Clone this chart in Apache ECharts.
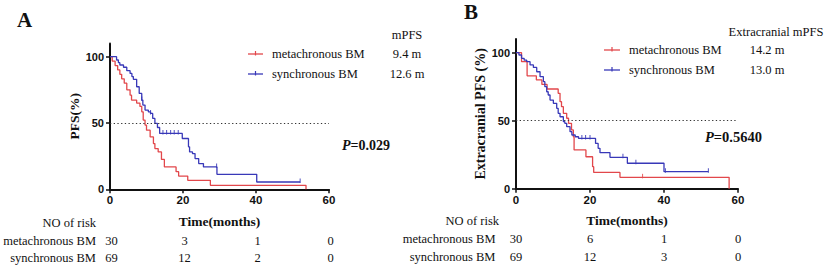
<!DOCTYPE html>
<html><head><meta charset="utf-8">
<script src="https://cdn.jsdelivr.net/npm/echarts@6/dist/echarts.min.js"></script>
<style>html,body{margin:0;padding:0;background:#fff}#c{width:824px;height:265px}</style>
</head><body><div id="c"></div>
<script>
// ---------------- data ----------------
const groups = ['metachronous BM', 'synchronous BM'];
const panelLabels = ['A', 'B'];
const yTitles = ['PFS(%)', 'Extracranial PFS (%)'];
const xTitle = 'Time(months)';
const xTicks = [0, 20, 40, 60];
const yTicks = [0, 50, 100];

// Panel A – PFS
const aMetaT = [0, 0.6, 1.4, 2.1, 2.7, 3.2, 3.9, 4.6, 5.5, 5.9, 7.3, 8.2, 8.7, 9.1, 9.6, 10.0, 11.0, 11.9, 12.3, 13.2, 14.1, 14.9, 18.1, 18.8, 21.3, 27.5, 53.7];
const aMetaS = [100, 96.7, 93.3, 90, 86.7, 83.3, 80, 75, 71, 67.3, 65, 62.5, 58.4, 52.2, 48.4, 44.6, 39.5, 34.5, 30.7, 28.2, 22.5, 16.9, 13.3, 10, 6.8, 3.0, 0];
const aSynT = [0, 1.8, 2.3, 2.7, 3.7, 4.6, 5.5, 6.0, 6.4, 7.3, 8.0, 8.7, 9.0, 9.6, 10.5, 11.1, 11.7, 12.3, 13.0, 13.6, 19.8, 21.5, 21.8, 22.6, 23.3, 24.3, 25.6, 29.3, 40.2, 52.1];
const aSynS = [100, 97.5, 95.5, 93.7, 92, 89.4, 87.4, 85, 82.9, 77.3, 72.3, 67.3, 63.5, 59.7, 58.4, 57.2, 53.4, 49.7, 46.6, 42.1, 38.3, 32, 28.2, 26.9, 23.2, 19.4, 16.9, 11.3, 5.5, 5.5];
const aSynCensT = [8.7, 11.1, 14.5, 15.5, 16.6, 17.6, 18.7, 29.2, 52.1];
const aSynCensS = [67.3, 57.2, 42.1, 42.1, 42.1, 42.1, 42.1, 16.9, 5.5];
const mpfsA = ['9.4 m', '12.6 m'];
const pA = '0.029';
const riskA = [[30, 3, 1, 0], [69, 12, 2, 0]];

// Panel B – Extracranial PFS
const bMetaT = [0, 1.5, 3.0, 5.5, 7.0, 8.4, 11.4, 11.9, 12.3, 12.8, 13.7, 14.2, 15.0, 15.5, 15.7, 18.9, 20.7, 21.0, 28.1, 57.6];
const bMetaS = [100, 93.4, 83.0, 80, 76.7, 73.3, 70.1, 64, 60.3, 55.4, 51.8, 48.1, 43.2, 38.2, 28.5, 23.5, 16.2, 12.0, 8.4, 0];
const bMetaCensT = [34.2];
const bMetaCensS = [8.4];
const bSynT = [0, 0.8, 1.5, 2.2, 2.9, 3.8, 4.7, 5.6, 6.5, 7.4, 7.8, 8.3, 8.7, 9.2, 10.1, 11.0, 11.4, 11.9, 12.8, 13.2, 13.7, 14.6, 15.1, 16.0, 16.9, 21.5, 22.2, 22.7, 25.4, 30.1, 40.0, 52.0];
const bSynS = [100, 98.3, 95.9, 94.5, 93.4, 91, 89.2, 86, 82.4, 78.7, 75, 71.3, 68.9, 65.2, 62.8, 59.1, 55.4, 52.9, 49.3, 48.1, 45.6, 41.9, 39.5, 38.2, 37, 33.3, 29.7, 26.5, 23.1, 18.7, 12.5, 12.5];
const bSynCensT = [17.8, 18.8, 20.0, 28.9, 32.4, 40.4, 52.0];
const bSynCensS = [37, 37, 37, 23.1, 18.7, 12.5, 12.5];
const mpfsB = ['14.2 m', '13.0 m'];
const pB = '0.5640';
const riskB = [[30, 6, 1, 0], [69, 12, 3, 0]];

const mpfsHeaders = ['mPFS', 'Extracranial mPFS'];
const riskHeader = 'NO of risk';

// ---------------- styling ----------------
const RED = '#e2474b', BLUE = '#3838b8', INK = '#111';
const SERIF = 'Liberation Serif';
const SANS = 'Liberation Sans';
const zip = (t, s) => t.map((v, i) => [v, s[i]]);

const chart = echarts.init(document.getElementById('c'), null, {renderer: 'svg', width: 824, height: 265});

function xAx(gi) {
  return {
    type: 'value', gridIndex: gi, min: 0, max: 60, interval: 20,
    name: xTitle, nameLocation: 'middle', nameGap: 25,
    nameTextStyle: {fontFamily: SERIF, fontWeight: 'bold', fontSize: 13.5, color: INK},
    axisLine: {onZero: false, lineStyle: {color: INK, width: 2}},
    axisTick: {length: 4, lineStyle: {color: INK, width: 1.5}},
    axisLabel: {fontFamily: SANS, fontWeight: 'bold', fontSize: 11.5, color: INK, margin: 5},
    splitLine: {show: false}
  };
}
function yAx(gi) {
  return {
    type: 'value', gridIndex: gi, min: 0, max: 110, interval: 50,
    name: yTitles[gi], nameLocation: 'middle', nameGap: 28, nameRotate: 90,
    nameTextStyle: {fontFamily: SERIF, fontWeight: 'bold', fontSize: gi === 0 ? 13.5 : 14, color: INK},
    axisLine: {show: true, onZero: false, lineStyle: {color: INK, width: 2}},
    axisTick: {show: true, length: 4, customValues: yTicks, lineStyle: {color: INK, width: 1.5}},
    axisLabel: {customValues: yTicks, fontFamily: SANS, fontWeight: 'bold', fontSize: 11, color: INK, margin: 6},
    splitLine: {show: false}
  };
}
function km(gi, name, t, s, color, withRef) {
  const o = {
    type: 'line', name, xAxisIndex: gi, yAxisIndex: gi, step: 'end', symbol: 'none',
    data: zip(t, s), lineStyle: {color, width: 1.3}, itemStyle: {color}, silent: true, z: 3
  };
  if (withRef) {
    o.markLine = {silent: true, symbol: 'none', label: {show: false},
      lineStyle: {type: [1.3, 2.4], color: '#333', width: 1}, data: [{yAxis: 50}]};
  }
  return o;
}
function cens(gi, t, s, color) {
  return {type: 'scatter', xAxisIndex: gi, yAxisIndex: gi, symbol: 'rect', symbolSize: [1.1, 4.5],
    symbolOffset: [0, -1.2], data: zip(t, s), itemStyle: {color}, silent: true, z: 4};
}

chart.setOption({
  animation: false,
  backgroundColor: '#fff',
  grid: [
    {left: 110, top: 43.4, width: 219, height: 145.9},
    {left: 516, top: 39.1, width: 222, height: 149.6}
  ],
  xAxis: [xAx(0), xAx(1)],
  yAxis: [yAx(0), yAx(1)],
  series: [
    km(0, groups[0], aMetaT, aMetaS, RED, true),
    km(0, groups[1], aSynT, aSynS, BLUE, false),
    cens(0, aSynCensT, aSynCensS, BLUE),
    km(1, groups[0], bMetaT, bMetaS, RED, true),
    km(1, groups[1], bSynT, bSynS, BLUE, false),
    cens(1, bMetaCensT, bMetaCensS, RED),
    cens(1, bSynCensT, bSynCensS, BLUE)
  ]
});

// ---------------- annotations ----------------
function txt(x, y, text, size, align, bold) {
  return {type: 'text', silent: true, style: {
    x, y, text, fontFamily: SERIF, fontSize: size, fontWeight: bold ? 'bold' : 'normal',
    fill: INK, align: align || 'left', verticalAlign: 'middle',
    textAlign: align || 'left', textVerticalAlign: 'middle'}};
}
function pText(x, y, val, size) {
  return {type: 'text', silent: true, style: {
    x, y, text: '{i|P}{b|=' + val + '}', align: 'left', verticalAlign: 'middle',
    textAlign: 'left', textVerticalAlign: 'middle',
    rich: {
      i: {fontFamily: SERIF, fontSize: size, fontWeight: 'bold', fontStyle: 'italic', fill: INK},
      b: {fontFamily: SERIF, fontSize: size, fontWeight: 'bold', fill: INK}
    }}};
}
const FS = 12.5;
function legendItem(x1, x2, y, color, label, tx) {
  return [
    {type: 'line', silent: true, shape: {x1, y1: y, x2, y2: y}, style: {stroke: color, lineWidth: 1.3}},
    {type: 'line', silent: true, shape: {x1: (x1 + x2) / 2, y1: y - 3, x2: (x1 + x2) / 2, y2: y + 1.5}, style: {stroke: color, lineWidth: 1.2}},
    txt(tx, y, label, FS, 'left')
  ];
}
const px = (gi, t) => chart.convertToPixel({gridIndex: gi}, [t, 0])[0];

const g = [];
g.push(txt(24.5, 20, panelLabels[0], 21, 'center', true));
g.push(txt(471, 12, panelLabels[1], 21, 'center', true));
g.push(...legendItem(248, 263, 54, RED, groups[0], 272));
g.push(...legendItem(248, 263, 74, BLUE, groups[1], 272));
g.push(...legendItem(604, 620, 50, RED, groups[0], 629));
g.push(...legendItem(604, 620, 70, BLUE, groups[1], 629));
g.push(txt(407, 35, mpfsHeaders[0], FS, 'center'));
g.push(txt(407, 54, mpfsA[0], FS, 'center'));
g.push(txt(407, 74, mpfsA[1], FS, 'center'));
g.push(txt(776, 32, mpfsHeaders[1], FS, 'center'));
g.push(txt(767, 50, mpfsB[0], FS, 'center'));
g.push(txt(767, 70, mpfsB[1], FS, 'center'));
g.push(pText(342, 145, pA, 14));
g.push(pText(705, 137, pB, 14.5));
g.push(txt(96, 223, riskHeader, FS, 'right'));
g.push(txt(96, 241, groups[0], FS, 'right'));
g.push(txt(96, 257.5, groups[1], FS, 'right'));
g.push(txt(499, 220.5, riskHeader, FS, 'right'));
g.push(txt(495.5, 238.5, groups[0], FS, 'right'));
g.push(txt(495.5, 256.5, groups[1], FS, 'right'));
xTicks.forEach((t, i) => {
  g.push(txt(px(0, t) + 1.5, 241, String(riskA[0][i]), FS, 'center'));
  g.push(txt(px(0, t) + 1.5, 257.5, String(riskA[1][i]), FS, 'center'));
  g.push(txt(px(1, t), 238.5, String(riskB[0][i]), FS, 'center'));
  g.push(txt(px(1, t), 256.5, String(riskB[1][i]), FS, 'center'));
});
chart.setOption({graphic: g});
</script></body></html>
